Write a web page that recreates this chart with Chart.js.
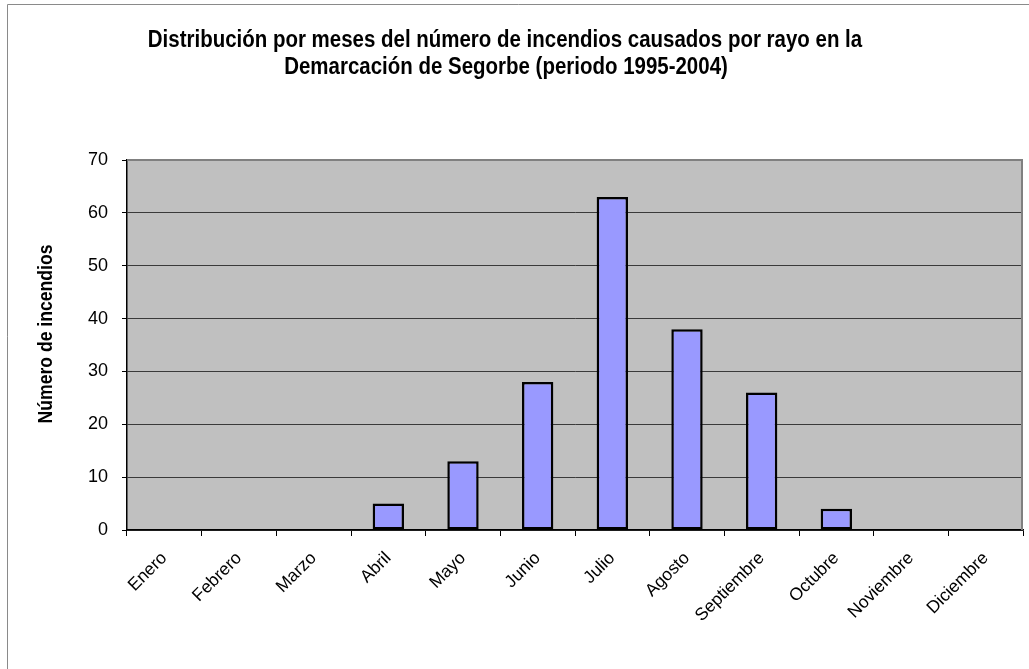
<!DOCTYPE html>
<html>
<head>
<meta charset="utf-8">
<script src="https://cdn.jsdelivr.net/npm/chart.js@4.4.1/dist/chart.umd.min.js"></script>
<style>
  html, body { margin: 0; padding: 0; background: #fff; }
  #wrap { width: 1029px; height: 669px; position: relative; }
</style>
</head>
<body>
<div id="wrap"><canvas id="chart" width="1029" height="669"></canvas></div>
<script>
// Data
var months = ["Enero", "Febrero", "Marzo", "Abril", "Mayo", "Junio", "Julio",
              "Agosto", "Septiembre", "Octubre", "Noviembre", "Diciembre"];
var fires = [0, 0, 0, 5, 13, 28, 63, 38, 26, 4, 0, 0];
var yMax = 70;
var yStep = 10;
var titleLines = [
    "Distribución por meses del número de incendios causados por rayo en la",
    "Demarcación de Segorbe (periodo 1995-2004)"
];
var yTitle = "Número de incendios";

var family = '"Liberation Sans", Arial, sans-serif';
Chart.defaults.font.family = family;
Chart.defaults.color = "#000";

// squeezed text, like the narrow face of the original
function narrowText(ctx, text, x, y, size, squeeze, angle) {
    ctx.save();
    ctx.translate(x, y);
    if (angle) ctx.rotate(angle);
    ctx.scale(squeeze, 1);
    ctx.font = "bold " + size + "px " + family;
    ctx.fillText(text, 0, 0);
    ctx.restore();
}

// grey plot background, borders, outer frame and the titles
var framePlugin = {
    id: 'frame',
    beforeDraw: function (chart) {
        var a = chart.chartArea, ctx = chart.ctx;
        ctx.save();
        ctx.fillStyle = "#C0C0C0";
        ctx.fillRect(a.left, a.top, a.right - a.left, a.bottom - a.top);
        ctx.strokeStyle = "#8a8a8a";
        ctx.lineWidth = 1;
        ctx.beginPath();
        ctx.moveTo(7.5, chart.height);
        ctx.lineTo(7.5, 4.5);
        ctx.lineTo(chart.width, 4.5);
        ctx.stroke();
        ctx.restore();
    },
    afterDraw: function (chart) {
        var a = chart.chartArea, ctx = chart.ctx;
        ctx.save();
        ctx.strokeStyle = "#808080";
        ctx.lineWidth = 2;
        ctx.beginPath();
        ctx.moveTo(a.left, a.top);
        ctx.lineTo(a.right - 1, a.top);
        ctx.lineTo(a.right - 1, a.bottom);
        ctx.stroke();

        ctx.fillStyle = "#000";
        ctx.textAlign = "center";
        ctx.textBaseline = "alphabetic";
        narrowText(ctx, titleLines[0], 505, 47, 23, 0.89);
        narrowText(ctx, titleLines[1], 506, 74, 23, 0.89);
        ctx.textBaseline = "middle";
        narrowText(ctx, yTitle, 46, 334, 20, 0.88, -Math.PI / 2);
        ctx.restore();
    }
};

var ctx = document.getElementById('chart').getContext('2d');
new Chart(ctx, {
    type: 'bar',
    data: {
        labels: months,
        datasets: [{
            data: fires,
            backgroundColor: "#9999FF",
            borderColor: "#000",
            borderWidth: 2.5,
            borderSkipped: false,
            barPercentage: 0.42,
            categoryPercentage: 1
        }]
    },
    options: {
        responsive: false,
        animation: false,
        layout: { padding: { left: 0, right: 6, top: 160, bottom: 0 } },
        plugins: {
            legend: { display: false },
            tooltip: { enabled: false },
            title: { display: false }
        },
        scales: {
            x: {
                offset: true,
                afterFit: function (s) { s.height = 669 - 530; },
                grid: { display: true, drawOnChartArea: false, offset: true,
                        color: "#000", tickLength: 6 },
                border: { color: "#000", width: 1.5 },
                ticks: {
                    autoSkip: false, maxRotation: 45, minRotation: 45,
                    padding: 12,
                    font: { size: 17.5 }
                }
            },
            y: {
                min: 0, max: yMax,
                afterFit: function (s) { s.width = 127; },
                grid: { color: "#3a3a3a", tickColor: "#000", tickLength: 5 },
                border: { color: "#000", width: 1.5 },
                ticks: { stepSize: yStep, padding: 14, font: { size: 18 } }
            }
        }
    },
    plugins: [framePlugin]
});
</script>
</body>
</html>
